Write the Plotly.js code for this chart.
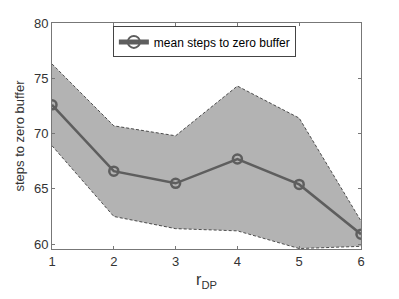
<!DOCTYPE html>
<html><head><meta charset="utf-8">
<script src="https://cdn.plot.ly/plotly-3.0.1.min.js"></script>
<style>body{margin:0;padding:0;background:#fff}#chart{width:399px;height:299px}</style>
</head><body><div id="chart"></div>
<script>
const rDP = [1, 2, 3, 4, 5, 6];
const meanSteps = [72.6, 66.6, 65.5, 67.7, 65.4, 60.9];
const upperSteps = [76.3, 70.7, 69.8, 74.3, 71.4, 62.1];
const lowerSteps = [68.9, 62.5, 61.4, 61.2, 59.6, 59.8];
const xTicks = [1, 2, 3, 4, 5, 6];
const yTicks = [60, 65, 70, 75, 80];

const traces = [
  {x: rDP, y: upperSteps, mode: 'lines', showlegend: false, hoverinfo: 'skip',
   line: {color: '#111', width: 0.7, dash: '3px,2px'}},
  {x: rDP, y: lowerSteps, mode: 'lines', showlegend: false, hoverinfo: 'skip',
   fill: 'tonexty', fillcolor: '#b3b3b3',
   line: {color: '#111', width: 0.7, dash: '3px,2px'}},
  {x: rDP, y: meanSteps, mode: 'lines+markers', name: 'mean steps to zero buffer',
   line: {color: '#5e5e5e', width: 2.5},
   marker: {symbol: 'circle-open', size: 9, color: '#5e5e5e', line: {width: 2.5, color: '#5e5e5e'}}}
];

const axisCommon = {
  showgrid: false, zeroline: false, showline: true, linecolor: '#777', linewidth: 1,
  mirror: 'ticks', ticks: 'inside', ticklen: 3, tickcolor: '#777',
  tickfont: {family: 'Liberation Sans, Arial, sans-serif', size: 13, color: '#333'}
};

const layout = {
  width: 399, height: 299,
  margin: {l: 52, r: 38, t: 23, b: 50},
  paper_bgcolor: '#fff', plot_bgcolor: '#fff',
  font: {family: 'Liberation Sans, Arial, sans-serif', color: '#333'},
  xaxis: Object.assign({}, axisCommon, {
    range: [1, 6], tickvals: xTicks, ticktext: xTicks.map(String),
    title: {text: 'r<sub>DP</sub>', font: {size: 16, color: '#333'}, standoff: 6}
  }),
  yaxis: Object.assign({}, axisCommon, {
    range: [59.56, 80], tickvals: yTicks, ticktext: yTicks.map(String),
    title: {text: 'steps to zero buffer', font: {size: 13, color: '#333'}, standoff: 6}
  }),
  legend: {
    x: 0.197, y: 0.985, xanchor: 'left', yanchor: 'top',
    bgcolor: '#fff', bordercolor: '#444', borderwidth: 1,
    font: {size: 12, color: '#000'}, itemwidth: 30,
    itemsizing: 'constant', tracegroupgap: 0
  },
  showlegend: true
};

Plotly.newPlot('chart', traces, layout, {displayModeBar: false, staticPlot: true});
</script></body></html>
